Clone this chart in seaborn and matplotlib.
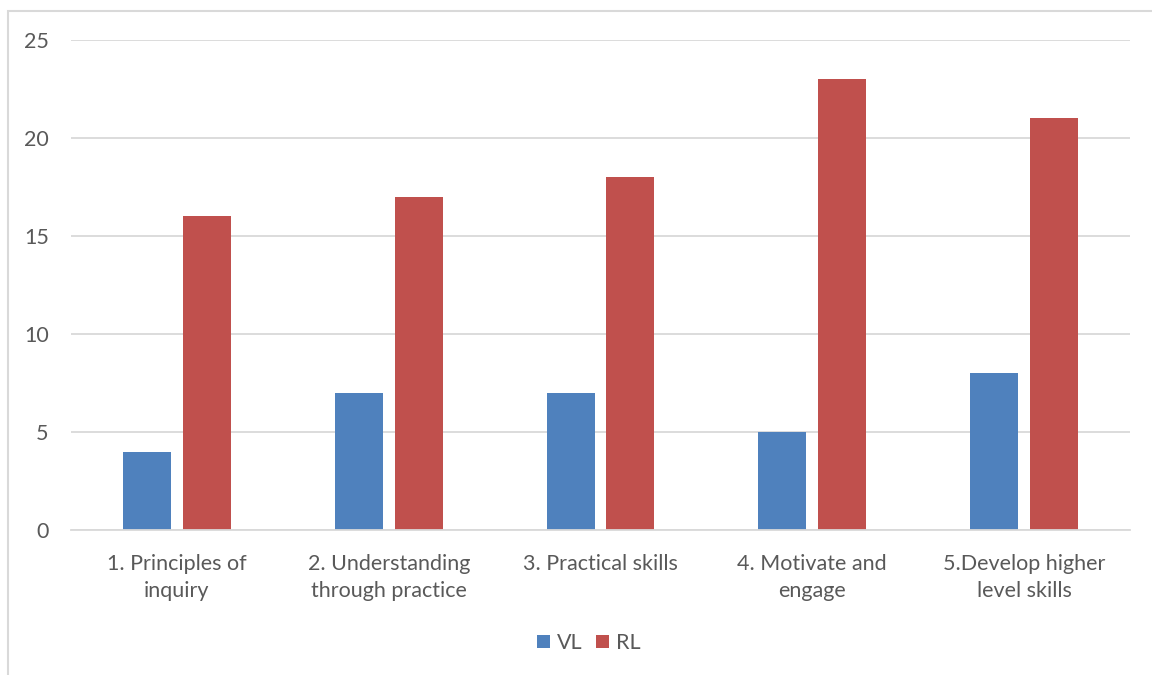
import matplotlib
matplotlib.use("Agg")
import matplotlib.pyplot as plt
import seaborn as sns
import pandas as pd
from matplotlib.patches import Rectangle

categories = ["1. Principles of\ninquiry", "2. Understanding\nthrough practice",
              "3. Practical skills", "4. Motivate and\nengage", "5.Develop higher\nlevel skills"]
vl_values = [4, 7, 7, 5, 8]
rl_values = [16, 17, 18, 23, 21]
series_names = ["VL", "RL"]
y_ticks = [0, 5, 10, 15, 20, 25]

df = pd.DataFrame({
    "category": categories * 2,
    "series": [series_names[0]] * len(categories) + [series_names[1]] * len(categories),
    "value": vl_values + rl_values,
})

sns.set_theme(style="white")
plt.rcParams["font.family"] = ["Lato", "DejaVu Sans"]
text_color = "#595959"
grid_color = "#D9D9D9"

fig = plt.figure(figsize=(11.52, 6.75), dpi=100)
ax = fig.add_axes([71 / 1152, 1 - 530 / 675, (1130 - 71) / 1152, (530 - 40) / 675])

sns.barplot(data=df, x="category", y="value", hue="series",
            palette=["#4F81BD", "#C0504D"], width=0.566, gap=0.2,
            saturation=1, linewidth=0, ax=ax, legend=True)

ax.set_ylim(0, 25)
ax.set_yticks(y_ticks)
ax.set_xlim(-0.5, len(categories) - 0.5)
ax.set_xlabel("")
ax.set_ylabel("")
ax.grid(axis="y", color=grid_color, linewidth=1.3)
ax.set_axisbelow(True)
for side in ["left", "right", "top"]:
    ax.spines[side].set_visible(False)
ax.spines["bottom"].set_color(grid_color)
ax.spines["bottom"].set_linewidth(1.3)
ax.tick_params(axis="both", length=0, labelsize=15.5, colors=text_color)
ax.tick_params(axis="y", pad=16)
ax.tick_params(axis="x", pad=17)
for lbl in ax.get_xticklabels():
    lbl.set_linespacing(1.45)

handles, labels = ax.get_legend_handles_labels()
ax.legend_.remove()
fig.legend(handles, labels, loc="center", bbox_to_anchor=(589 / 1152, 1 - 643 / 675),
           ncol=2, frameon=False, fontsize=15.5, labelcolor=text_color,
           handlelength=0.6, handleheight=0.6, handletextpad=0.35, columnspacing=0.6)

# outer chart border
fig.add_artist(Rectangle((7.5 / 1152, -0.1), 1.2, 1 - 11 / 675 + 0.1,
                         transform=fig.transFigure, fill=False,
                         edgecolor=grid_color, linewidth=1.5))

fig.savefig("out.png", dpi=100, facecolor="white")
